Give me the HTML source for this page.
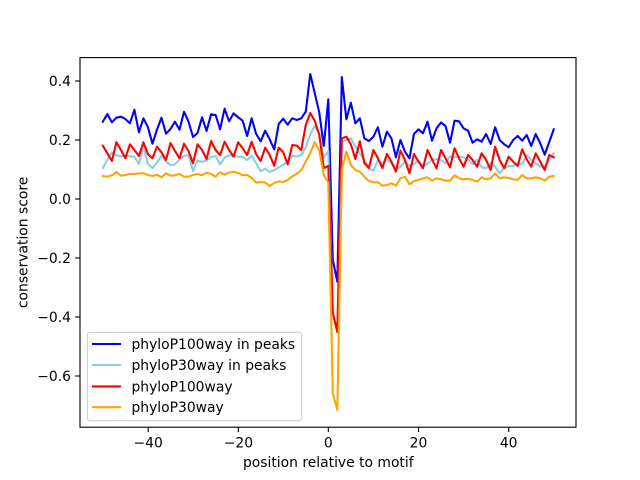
<!DOCTYPE html>
<html>
<head>
<meta charset="utf-8">
<style>
html,body{margin:0;padding:0;background:#fff;}
svg{display:block;}
text{font-family:"DejaVu Sans","Liberation Sans",sans-serif;font-size:13.89px;fill:#000;}
</style>
</head>
<body>
<svg width="640" height="480" viewBox="0 0 640 480" xmlns="http://www.w3.org/2000/svg">
<rect x="0" y="0" width="640" height="480" fill="#fff"/>
<defs><clipPath id="ax"><rect x="80" y="57.6" width="496" height="369.6"/></clipPath></defs>
<g clip-path="url(#ax)">
<g transform="translate(328.3,0) scale(4.509,1)" fill="none" stroke-width="2.08" stroke-linejoin="round" stroke-linecap="square">
<polyline vector-effect="non-scaling-stroke" stroke="#0000ff" points="-50,121.7 -49,114 -48,122.3 -47,117.7 -46,116.7 -45,119 -44,123.3 -43,109.7 -42,132.3 -41,118.3 -40,127.3 -39,143.7 -38,129.7 -37,117.7 -36,133.7 -35,129 -34,121.7 -33,129.7 -32,111.7 -31,121.7 -30,137 -29,133 -28,117.3 -27,131 -26,114.3 -25,115 -24,129.3 -23,108.7 -22,121.3 -21,113.3 -20,117.3 -19,120.7 -18,136 -17,118.3 -16,134 -15,141.3 -14,130.7 -13,139.3 -12,149.3 -11,124 -10,118.7 -9,124.7 -8,118.3 -7,120 -6,118.3 -5,111.7 -4,74 -3,93.3 -2,112.7 -1,146 0,99.3 1,260 2,281.7 3,77 4,119.3 5,102.7 6,123.3 7,118.3 8,138.3 9,141 10,136.7 11,127.3 12,146.7 13,131.7 14,138.3 15,157.3 16,140 17,151.7 18,158.3 19,134 20,129.3 21,133.3 22,121.7 23,140.7 24,128.3 25,122.5 26,126 27,142.7 28,120.7 29,121.3 30,128.3 31,130.7 32,142.7 33,139.3 34,141.7 35,134 36,144 37,127.3 38,140 39,144.3 40,147.3 41,140 42,136 43,140.7 44,135 45,146 46,134 47,143.3 48,154.7 49,142 50,129.3"/>
<polyline vector-effect="non-scaling-stroke" stroke="#87ceeb" points="-50,168 -49,159.5 -48,152.5 -47,155.3 -46,156.3 -45,155.5 -44,156.3 -43,156.7 -42,164 -41,147 -40,164 -39,168 -38,162.5 -37,156 -36,161.5 -35,165 -34,164.5 -33,159.5 -32,156 -31,155 -30,171 -29,160.5 -28,161.7 -27,160.8 -26,156.7 -25,156 -24,164.5 -23,157.5 -22,155.3 -21,155.5 -20,156.7 -19,157 -18,160 -17,155.8 -16,163.3 -15,171.3 -14,168.7 -13,172 -12,170 -11,167.5 -10,165 -9,161.7 -8,155.8 -7,156.5 -6,155 -5,147.5 -4,134 -3,126 -2,133.5 -1,157.5 0,151 1,312 2,330 3,141.7 4,140 5,138.3 6,146.7 7,153.3 8,160 9,168.3 10,170.7 11,160 12,163.3 13,160 14,163.3 15,170 16,166.7 17,161.7 18,166 19,164 20,160.7 21,166 22,164 23,160 24,159.3 25,160 26,163.3 27,156.7 28,157.3 29,156.7 30,157.3 31,160 32,164 33,160 34,167.3 35,168.3 36,163.3 37,166.7 38,173.3 39,168.3 40,166 41,166 42,163.3 43,164 44,155 45,160 46,163.3 47,166.7 48,166.7 49,160 50,153.3"/>
<polyline vector-effect="non-scaling-stroke" stroke="#ff0000" points="-50,145.7 -49,153.3 -48,161 -47,142.3 -46,150 -45,158.3 -44,144.3 -43,150 -42,156 -41,142.3 -40,154.3 -39,158.3 -38,146.7 -37,152.3 -36,160 -35,143 -34,151 -33,158.3 -32,143.7 -31,151 -30,163.3 -29,144.3 -28,150 -27,159 -26,141 -25,150 -24,155 -23,141.7 -22,150 -21,156.7 -20,142.3 -19,148.3 -18,155 -17,141.7 -16,154.3 -15,161 -14,147.7 -13,155 -12,165.7 -11,147.7 -10,152.3 -9,164.3 -8,145 -7,145.7 -6,150 -5,125 -4,113 -3,121 -2,135 -1,168 0,166 1,313 2,332 3,138.3 4,136.7 5,144.3 6,159 7,141.3 8,163 9,168 10,150 11,158.3 12,168 13,154 14,161.7 15,171.7 16,150.7 17,160 18,173.3 19,154 20,161.7 21,168.3 22,150 23,159.3 24,168.3 25,150 26,158.3 27,167.3 28,148.3 29,158.3 30,166.7 31,155 32,160 33,166.7 34,153.3 35,160 36,170 37,146.7 38,160 39,168.3 40,156.7 41,161.7 42,166 43,149.3 44,159.3 45,166.7 46,153.3 47,161.7 48,170 49,155 50,157.3"/>
<polyline vector-effect="non-scaling-stroke" stroke="#ffa500" points="-50,176 -49,176.7 -48,175.3 -47,172 -46,175.7 -45,175 -44,174 -43,174 -42,173.3 -41,173.3 -40,175 -39,176 -38,174.7 -37,177.3 -36,173.3 -35,175.7 -34,175.3 -33,174 -32,176.7 -31,176.7 -30,175 -29,174 -28,175.3 -27,172.7 -26,174 -25,176.7 -24,172.2 -23,174.7 -22,172.5 -21,171.7 -20,173 -19,175.2 -18,175 -17,178 -16,182.5 -15,182 -14,182.5 -13,186 -12,183 -11,181.5 -10,182 -9,180 -8,176.5 -7,173.8 -6,170 -5,161.7 -4,152.8 -3,142 -2,150.8 -1,175 0,182.5 1,393.3 2,410 3,170 4,151.7 5,165 6,170 7,171.7 8,176.7 9,181 10,182.3 11,182.3 12,185.7 13,185 14,183.3 15,185.7 16,178.3 17,176.7 18,184.3 19,181 20,180 21,178.3 22,177.3 23,180.7 24,178.3 25,179.3 26,180.7 27,180.7 28,175.3 29,178.3 30,179.3 31,178.7 32,180 33,181.7 34,177.3 35,179.3 36,178.3 37,173.3 38,178.3 39,177.3 40,178 41,179.3 42,180 43,175 44,178.3 45,178.3 46,177.3 47,178.3 48,180.7 49,176.7 50,176"/>
</g>
</g>
<!-- axes frame -->
<rect x="80" y="57.6" width="496" height="369.6" fill="none" stroke="#000" stroke-width="1.11"/>
<!-- x ticks -->
<g stroke="#000" stroke-width="1.11">
<line x1="148.2" y1="427.2" x2="148.2" y2="432.1"/>
<line x1="238.4" y1="427.2" x2="238.4" y2="432.1"/>
<line x1="328.3" y1="427.2" x2="328.3" y2="432.1"/>
<line x1="418.5" y1="427.2" x2="418.5" y2="432.1"/>
<line x1="508.7" y1="427.2" x2="508.7" y2="432.1"/>
<line x1="75.1" y1="81" x2="80" y2="81"/>
<line x1="75.1" y1="140" x2="80" y2="140"/>
<line x1="75.1" y1="199" x2="80" y2="199"/>
<line x1="75.1" y1="258" x2="80" y2="258"/>
<line x1="75.1" y1="317" x2="80" y2="317"/>
<line x1="75.1" y1="376" x2="80" y2="376"/>
</g>
<g text-anchor="middle">
<text x="148.2" y="447.3">−40</text>
<text x="238.4" y="447.3">−20</text>
<text x="328.3" y="447.3">0</text>
<text x="418.5" y="447.3">20</text>
<text x="508.7" y="447.3">40</text>
</g>
<g text-anchor="end">
<text x="71" y="86">0.4</text>
<text x="71" y="145">0.2</text>
<text x="71" y="204">0.0</text>
<text x="71" y="263">−0.2</text>
<text x="71" y="322">−0.4</text>
<text x="71" y="381">−0.6</text>
</g>
<text x="328.3" y="467" text-anchor="middle">position relative to motif</text>
<text transform="translate(27.5,242.4) rotate(-90)" text-anchor="middle">conservation score</text>
<!-- legend -->
<rect x="87.3" y="332.3" width="214.4" height="88.4" rx="2.8" ry="2.8" fill="#fff" fill-opacity="0.8" stroke="#cccccc" stroke-width="1"/>
<g stroke-width="2.08" stroke-linecap="square">
<line x1="93" y1="344" x2="120" y2="344" stroke="#0000ff"/>
<line x1="93" y1="365" x2="120" y2="365" stroke="#87ceeb"/>
<line x1="93" y1="386.4" x2="120" y2="386.4" stroke="#ff0000"/>
<line x1="93" y1="407.2" x2="120" y2="407.2" stroke="#ffa500"/>
</g>
<text x="131.5" y="349">phyloP100way in peaks</text>
<text x="131.5" y="370">phyloP30way in peaks</text>
<text x="131.5" y="391.3">phyloP100way</text>
<text x="131.5" y="412.1">phyloP30way</text>
</svg>
</body>
</html>
